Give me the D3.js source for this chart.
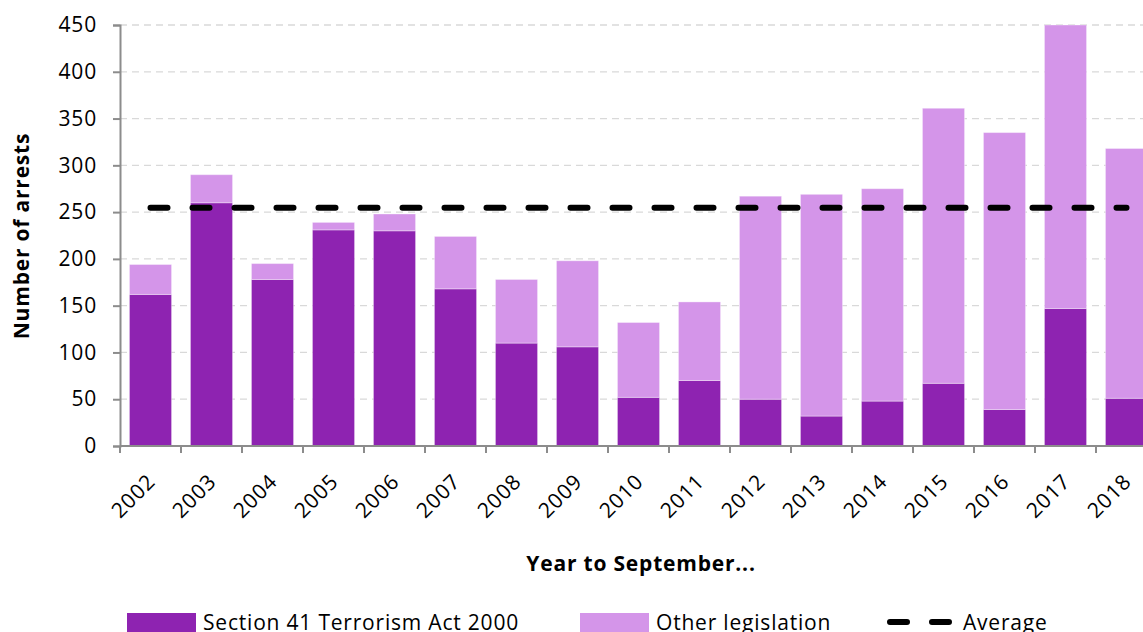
<!DOCTYPE html>
<html>
<head>
<meta charset="utf-8">
<script src="https://cdn.jsdelivr.net/npm/d3@7"></script>
<style>
  body { margin: 0; background: #fff; }
  svg { display: block; font-family: "Open Sans", sans-serif; }
</style>
</head>
<body>
<svg width="1143" height="632"></svg>
<script>
// data
var years = ["2002", "2003", "2004", "2005", "2006", "2007", "2008", "2009", "2010",
  "2011", "2012", "2013", "2014", "2015", "2016", "2017", "2018"];
var section41 = [162, 260, 178, 231, 230, 168, 110, 106, 52, 70, 50, 32, 48, 67, 39, 147, 51];
var otherLeg = [32, 30, 17, 8, 18, 56, 68, 92, 80, 84, 217, 237, 227, 294, 296, 303, 267];
var yTicks = [0, 50, 100, 150, 200, 250, 300, 350, 400, 450];
var seriesNames = ["Section 41 Terrorism Act 2000", "Other legislation"];
var colors = ["#8e23b1", "#d495e9"];

var rows = years.map((y, i) => ({ year: y, s41: section41[i], other: otherLeg[i] }));
var avg = d3.mean(rows, (d) => d.s41 + d.other);

var svg = d3.select("svg");

var x = d3.scaleBand()
  .domain(years)
  .range([120, 1157])
  .paddingInner(0.31)
  .paddingOuter(0.155);

var y = d3.scaleLinear()
  .domain([0, 450])
  .range([446, 25]);

// gridlines
svg.append("g")
  .selectAll("line")
  .data(yTicks.filter((t) => t > 0))
  .enter()
  .append("line")
  .attr("x1", 120)
  .attr("x2", 1143)
  .attr("y1", (d) => y(d))
  .attr("y2", (d) => y(d))
  .attr("stroke", "#d9d9d9")
  .attr("stroke-width", 1.3)
  .attr("stroke-dasharray", "7,5");

var stack = d3.stack().keys(["s41", "other"]);
var layers = stack(rows);

svg.append("g")
  .selectAll("g")
  .data(layers)
  .enter()
  .append("g")
  .attr("fill", (d, i) => colors[i])
  .selectAll("rect")
  .data((d) => d)
  .enter()
  .append("rect")
  .attr("x", (d) => x(d.data.year))
  .attr("width", x.bandwidth())
  .attr("y", (d) => y(d[1]))
  .attr("height", (d) => y(d[0]) - y(d[1]))
  .attr("stroke", "#ffffff")
  .attr("stroke-opacity", 0.35)
  .attr("stroke-width", 1);

// average line
svg.append("line")
  .attr("x1", x(years[0]) + x.bandwidth() / 2)
  .attr("x2", x(years[years.length - 1]) + x.bandwidth() / 2)
  .attr("y1", y(avg))
  .attr("y2", y(avg))
  .attr("stroke", "#000")
  .attr("stroke-width", 6)
  .attr("stroke-linecap", "round")
  .attr("stroke-dasharray", "17,25");

// y axis
var yAxis = svg.append("g")
  .attr("transform", "translate(120,0)")
  .call(d3.axisLeft(y).tickValues(yTicks).tickSize(7).tickPadding(16));
yAxis.selectAll("text")
  .attr("font-size", 21)
  .attr("letter-spacing", 0.8)
  .attr("fill", "#000")
  .attr("font-family", "Open Sans");
yAxis.selectAll("line,path").attr("stroke", "#8c8c8c").attr("stroke-width", 2);

// x axis: ticks at band edges
var xg = svg.append("g");
xg.append("line")
  .attr("x1", 120).attr("x2", 1143)
  .attr("y1", y(0)).attr("y2", y(0))
  .attr("stroke", "#8c8c8c").attr("stroke-width", 2);
xg.selectAll(".tk")
  .data(years)
  .enter()
  .append("line")
  .attr("x1", (d) => x(d) - x.step() * x.paddingInner() / 2)
  .attr("x2", (d) => x(d) - x.step() * x.paddingInner() / 2)
  .attr("y1", y(0))
  .attr("y2", y(0) + 7)
  .attr("stroke", "#8c8c8c")
  .attr("stroke-width", 2);
xg.selectAll("text")
  .data(years)
  .enter()
  .append("text")
  .attr("transform", (d) => "translate(" + (x(d) + x.bandwidth() / 2 + 6) + "," + (y(0) + 37) + ") rotate(-45)")
  .attr("text-anchor", "end")
  .attr("font-size", 21)
  .attr("letter-spacing", 0.8)
  .text((d) => d);

// axis titles
svg.append("text")
  .attr("transform", "translate(29,236) rotate(-90)")
  .attr("text-anchor", "middle")
  .attr("font-size", 21)
  .attr("letter-spacing", 0.8)
  .attr("font-weight", "bold")
  .text("Number of arrests");

svg.append("text")
  .attr("x", 641)
  .attr("y", 571)
  .attr("text-anchor", "middle")
  .attr("font-size", 21)
  .attr("letter-spacing", 0.8)
  .attr("font-weight", "bold")
  .text("Year to September...");

// legend
var legend = svg.append("g");
var legX = [127, 580];
seriesNames.forEach((name, i) => {
  legend.append("rect")
    .attr("x", legX[i]).attr("y", 613)
    .attr("width", 69).attr("height", 20)
    .attr("fill", colors[i]);
  legend.append("text")
    .attr("x", legX[i] + 76).attr("y", 630)
    .attr("font-size", 21)
    .attr("letter-spacing", 0.8)
    .text(name);
});
legend.append("line")
  .attr("x1", 890).attr("x2", 952)
  .attr("y1", 622).attr("y2", 622)
  .attr("stroke", "#000").attr("stroke-width", 6)
  .attr("stroke-linecap", "round")
  .attr("stroke-dasharray", "17,25");
legend.append("text")
  .attr("x", 963).attr("y", 630)
  .attr("font-size", 21)
  .attr("letter-spacing", 0.8)
  .text("Average");
</script>
</body>
</html>
